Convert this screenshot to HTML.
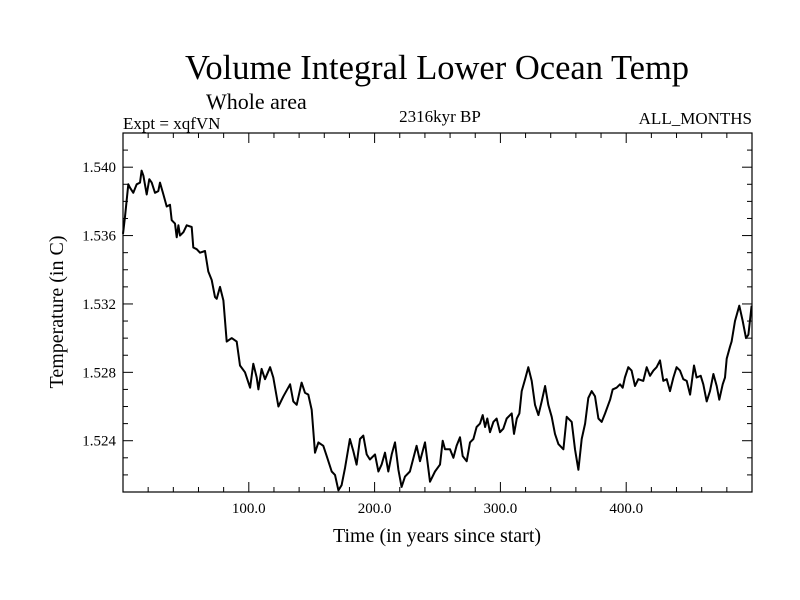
<!DOCTYPE html>
<html><head><meta charset="utf-8"><style>
html,body{margin:0;padding:0;background:#fff;}
svg{display:block;font-family:"Liberation Serif",serif;}
</style></head><body>
<svg id="chart" width="800" height="600" viewBox="0 0 800 600">
<rect x="0" y="0" width="800" height="600" fill="#fff"/>
<text x="437" y="79" font-size="34.5" text-anchor="middle">Volume Integral Lower Ocean Temp</text>
<text x="206" y="109" font-size="22">Whole area</text>
<text x="123" y="129" font-size="17">Expt = xqfVN</text>
<text x="440" y="122" font-size="17" text-anchor="middle">2316kyr BP</text>
<text x="752" y="124" font-size="17" text-anchor="end">ALL_MONTHS</text>
<text x="437" y="542" font-size="20" text-anchor="middle">Time (in years since start)</text>
<text transform="translate(63,312) rotate(-90)" font-size="20" text-anchor="middle">Temperature (in C)</text>
<g id="ticks"></g>
<g id="plot"></g>
<rect x="123" y="133" width="629" height="359" fill="none" stroke="#000" stroke-width="1.2"/>
</svg>
<script>
const times = [0,1.6,4.2,5.6,8.2,10.9,13.5,14.8,16.2,18.8,20.9,22.8,25.4,28.1,29.4,32.1,34.7,37.4,38.7,41.3,42.7,44.0,45.3,48.0,50.6,54.6,55.9,58.6,61.2,65.2,67.8,70.5,73.1,74.5,77.1,79.8,82.4,86.4,90.4,93.0,97.0,101.0,103.6,106.3,107.6,110.2,112.9,116.9,119.5,123.5,127.5,132.8,135.4,138.1,142.0,144.7,147.3,150.0,152.6,155.3,159.2,161.9,165.9,168.5,171.2,173.8,176.5,180.4,183.1,185.7,188.4,191.0,193.7,196.3,200.3,203.0,205.6,208.3,210.9,213.6,216.2,218.9,221.5,224.2,228.1,233.4,236.1,240.1,244.0,248.0,252.0,254.1,256.0,259.9,262.6,265.2,267.9,270.0,273.2,275.8,278.5,281.1,283.8,285.9,287.8,289.6,291.7,294.4,297.0,299.7,302.3,305.0,309.0,310.8,313.0,315.1,316.9,319.6,322.2,324.9,327.5,330.2,332.8,335.5,338.1,340.8,343.4,346.1,350.1,352.7,356.7,359.3,362.0,364.6,367.3,369.9,372.6,375.2,377.9,380.5,383.2,387.2,389.3,392.4,395.1,397.2,399.0,401.7,404.3,407.0,409.6,413.6,416.3,418.9,421.6,424.2,426.9,429.5,432.2,434.8,437.5,440.1,442.8,445.4,448.1,450.8,453.9,456.0,459.2,461.3,464.0,466.6,469.3,471.9,474.0,476.7,478.5,479.9,482.5,483.8,486.5,489.9,492.6,495.2,497.1,499.7];
const temps = [1.5361,1.5371,1.5390,1.5388,1.5385,1.5390,1.5391,1.5398,1.5395,1.5384,1.5393,1.5391,1.5385,1.5386,1.5391,1.5384,1.5377,1.5378,1.5369,1.5367,1.5359,1.5366,1.5360,1.5362,1.5366,1.5365,1.5353,1.5352,1.5350,1.5351,1.5339,1.5334,1.5324,1.5323,1.5330,1.5322,1.5298,1.5300,1.5298,1.5284,1.5280,1.5271,1.5285,1.5277,1.5270,1.5282,1.5276,1.5283,1.5277,1.5260,1.5266,1.5273,1.5263,1.5261,1.5274,1.5268,1.5267,1.5258,1.5233,1.5239,1.5237,1.5231,1.5222,1.5220,1.5211,1.5214,1.5224,1.5241,1.5234,1.5226,1.5241,1.5243,1.5232,1.5229,1.5232,1.5222,1.5226,1.5233,1.5222,1.5232,1.5239,1.5223,1.5213,1.5219,1.5222,1.5237,1.5228,1.5239,1.5216,1.5222,1.5226,1.5240,1.5235,1.5235,1.5230,1.5237,1.5242,1.5231,1.5228,1.5239,1.5241,1.5248,1.5250,1.5255,1.5248,1.5253,1.5245,1.5251,1.5253,1.5245,1.5247,1.5253,1.5256,1.5244,1.5253,1.5256,1.5269,1.5276,1.5283,1.5275,1.5261,1.5255,1.5263,1.5272,1.5261,1.5254,1.5244,1.5238,1.5235,1.5254,1.5251,1.5235,1.5223,1.5241,1.5250,1.5265,1.5269,1.5266,1.5253,1.5251,1.5256,1.5264,1.5270,1.5271,1.5273,1.5271,1.5277,1.5283,1.5281,1.5272,1.5276,1.5275,1.5283,1.5278,1.5281,1.5283,1.5287,1.5275,1.5276,1.5269,1.5277,1.5283,1.5281,1.5276,1.5275,1.5267,1.5284,1.5277,1.5278,1.5273,1.5263,1.5269,1.5279,1.5272,1.5264,1.5273,1.5277,1.5288,1.5295,1.5298,1.5310,1.5319,1.5310,1.5300,1.5302,1.5319];
const xTickValues = [100,200,300,400];
const xTickLabels = ["100.0","200.0","300.0","400.0"];
const yTickValues = [1.524,1.528,1.532,1.536,1.540];
const yTickLabels = ["1.524","1.528","1.532","1.536","1.540"];

const X0=123,X1=752,Y0=133,Y1=492,XMIN=0,XMAX=500,YMIN=1.521,YMAX=1.542;
const xs=v=>X0+(v-XMIN)/(XMAX-XMIN)*(X1-X0);
const ys=v=>Y1-(v-YMIN)/(YMAX-YMIN)*(Y1-Y0);
const NS="http://www.w3.org/2000/svg";
const tg=document.getElementById('ticks');
function line(x1,y1,x2,y2,name){
  const l=document.createElementNS(NS,'line');
  l.setAttribute('x1',x1);l.setAttribute('y1',y1);l.setAttribute('x2',x2);l.setAttribute('y2',y2);
  l.setAttribute('stroke','#000');l.setAttribute('stroke-width','1');
  
  
  tg.appendChild(l);
}
function text(x,y,s,anchor,name){
  const t=document.createElementNS(NS,'text');
  t.setAttribute('x',x);t.setAttribute('y',y);t.setAttribute('font-size','15');t.setAttribute('text-anchor',anchor);
  t.textContent=s;
  
  
  tg.appendChild(t);
}
for(let v=20;v<XMAX;v+=20){
  const major=v%100===0, L=major?10:5, x=xs(v);
  line(x,Y1,x,Y1-L,'x-tick');
  line(x,Y0,x,Y0+L,'x-tick-top');
}
xTickValues.forEach((v,i)=>text(xs(v),513,xTickLabels[i],'middle','x-tick-label'));
for(let k=1522;k<=1541;k++){
  const v=k/1000, major=(k-1520)%4===0, L=major?10:5, y=ys(v);
  line(X0,y,X0+L,y,'y-tick');
  line(X1,y,X1-L,y,'y-tick-right');
}
yTickValues.forEach((v,i)=>text(116,ys(v)+5,yTickLabels[i],'end','y-tick-label'));
const p=document.createElementNS(NS,'path');
p.setAttribute('d',times.map((t,i)=>(i?'L':'M')+xs(t).toFixed(1)+','+ys(temps[i]).toFixed(1)).join(''));
p.setAttribute('fill','none');p.setAttribute('stroke','#000');p.setAttribute('stroke-width','2');p.setAttribute('stroke-linejoin','round');


document.getElementById('plot').appendChild(p);
</script>
</body></html>
